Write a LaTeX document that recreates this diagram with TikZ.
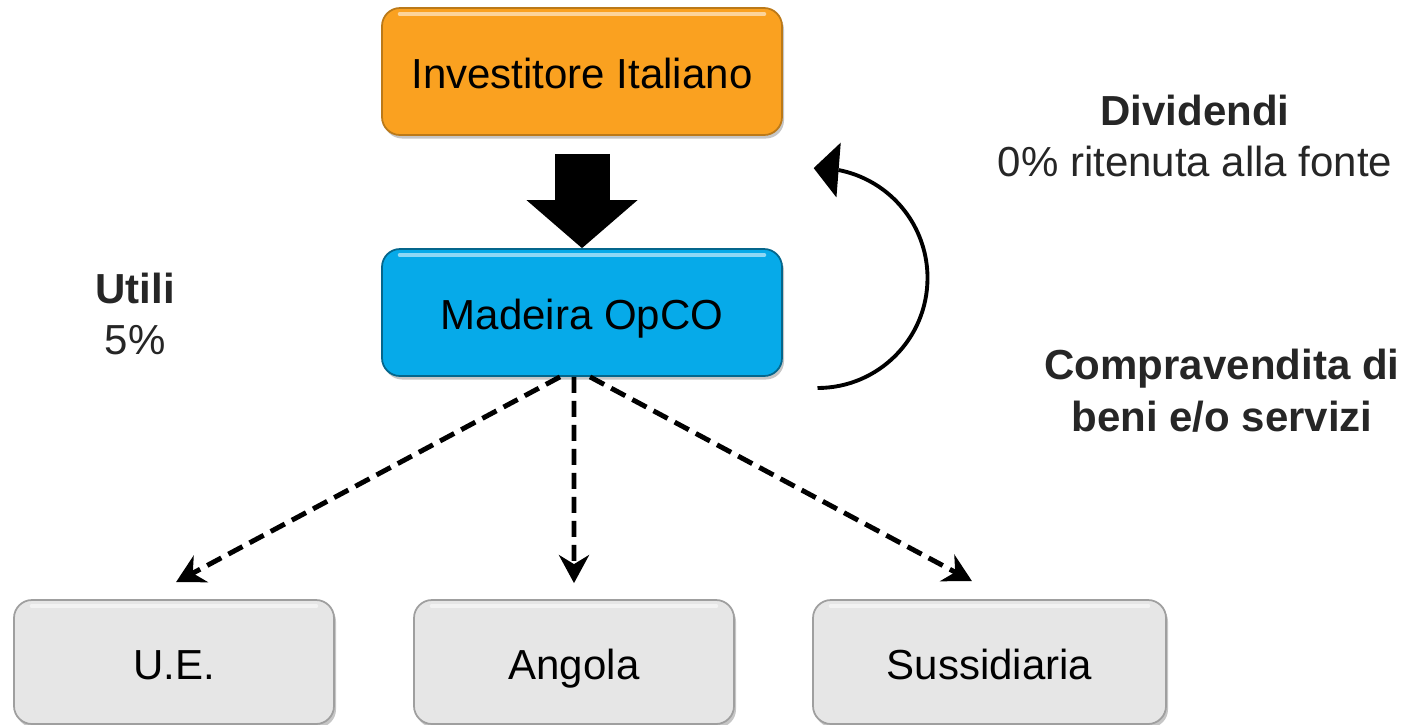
\documentclass[tikz,border=0pt]{standalone}
\usepackage{fontspec}
\setmainfont{Liberation Sans}
\usetikzlibrary{arrows.meta,bending,calc,shadows}
\definecolor{invorange}{RGB}{250,161,32}
\definecolor{opcoblue}{RGB}{6,170,233}
\definecolor{subgray}{RGB}{230,230,230}
\definecolor{labelgray}{RGB}{38,38,38}

\begin{document}
\begin{tikzpicture}[every node/.style={font=\fontsize{23.9}{29.5}\selectfont},
	box/.style={rounded corners=0.36cm,minimum height=2.54cm,line width=1pt,
		text height=24pt,text depth=5pt,
		drop shadow={shadow xshift=0.04cm,shadow yshift=-0.07cm,opacity=0.45},
		path picture={\draw[white,opacity=0.55,line width=2pt,line cap=round]
			([xshift=0.35cm,yshift=-0.12cm]path picture bounding box.north west) --
			([xshift=-0.35cm,yshift=-0.12cm]path picture bounding box.north east);}},
	topbox/.style={box,minimum width=8cm},
	subbox/.style={box,minimum width=6.4cm,minimum height=2.48cm,fill=subgray,draw=gray!75,text height=25pt},
	lbl/.style={text=labelgray,align=center},
	fat/.style={line width=1.1cm,-{Triangle[width=2.22cm,length=0.96cm,line width=0pt]}},
	flow/.style={line width=2.8pt,dash pattern=on 0.32cm off 0.16cm,
		-{Stealth[length=0.56cm,width=0.6cm,inset=0.18cm]}},
	back/.style={line width=2.2pt,-{Triangle[flex,width=1.1cm,length=0.5cm,line width=0pt]}}]
	\useasboundingbox (0,0) rectangle (28.32,-14.48);

	\node[topbox,fill=invorange,draw=invorange!75!black] (inv) at (11.64,-1.43) {Investitore Italiano};
	\node[topbox,fill=opcoblue,draw=opcoblue!60!black] (opco) at (11.64,-6.25) {Madeira OpCO};
	\node[subbox] (ue) at (3.48,-13.24) {U.E.};
	\node[subbox] (angola) at (11.48,-13.24) {Angola};
	\node[subbox,minimum width=7.06cm] (sub) at (19.79,-13.24) {Sussidiaria};

	\node[lbl] (div) at (23.9,-2.72) {\textbf{Dividendi}\\0\% ritenuta alla fonte};
	\node[lbl] (utili) at (2.7,-6.28) {\textbf{Utili}\\5\%};
	\node[lbl,font=\fontsize{23.9}{29.5}\selectfont\bfseries] (trade) at (24.44,-7.82) {Compravendita di\\beni e/o servizi};

	% investimento
	\draw[fat] ($(inv.south)+(0,-0.36)$) -- (opco.north);

	% partecipate
	\draw[flow] ($(opco.south)+(-0.44,0)$) -- ($(ue.north)+(0.04,0.34)$);
	\draw[flow] ($(opco.south)+(-0.16,0)$) -- ($(angola.north)+(0,0.32)$);
	\draw[flow] ($(opco.south)+(0.16,0)$) -- ($(sub.north)+(-0.35,0.36)$);

	% dividendi
	\coordinate (ret) at (16.35,-7.76);
	\draw[back] (ret) arc[start angle=-90,end angle=92,radius=2.2cm];
\end{tikzpicture}
\end{document}
